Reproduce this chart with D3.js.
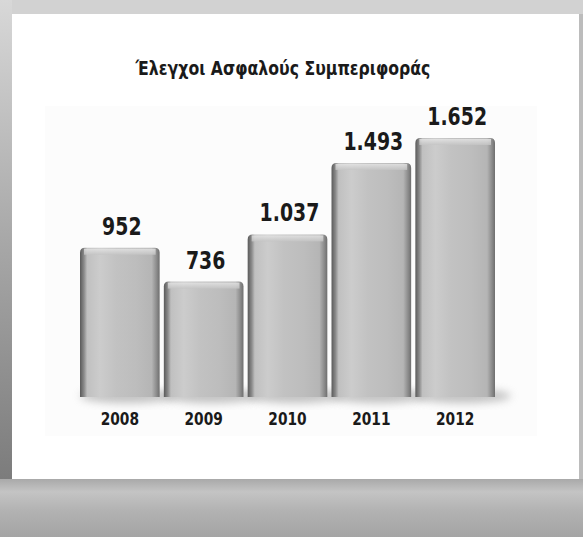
<!DOCTYPE html>
<html>
<head>
<meta charset="utf-8">
<script src="https://cdn.jsdelivr.net/npm/d3@7"></script>
<style>
html,body{margin:0;padding:0;background:#fff;}
svg{display:block;}
</style>
</head>
<body>
<script>
const title = "Έλεγχοι Ασφαλούς Συμπεριφοράς";
const years = ["2008","2009","2010","2011","2012"];
const values = [952, 736, 1037, 1493, 1652];
const valueLabels = ["952","736","1.037","1.493","1.652"];

const W = 583, H = 537;
const FONT = "'DejaVu Sans Condensed','Liberation Sans Narrow',sans-serif";
const svg = d3.select("body").append("svg").attr("width", W).attr("height", H);
const defs = svg.append("defs");

// background gradients
const gLeft = defs.append("linearGradient").attr("id","gLeft").attr("x1",0).attr("y1",0).attr("x2",0).attr("y2",1);
gLeft.append("stop").attr("offset","0%").attr("stop-color","#d8d8d8");
gLeft.append("stop").attr("offset","50%").attr("stop-color","#a8a8a8");
gLeft.append("stop").attr("offset","100%").attr("stop-color","#7c7c7c");
const gBot = defs.append("linearGradient").attr("id","gBot").attr("x1",0).attr("y1",0).attr("x2",0).attr("y2",1);
gBot.append("stop").attr("offset","0%").attr("stop-color","#a9a9a9");
gBot.append("stop").attr("offset","22%").attr("stop-color","#c4c4c4");
gBot.append("stop").attr("offset","55%").attr("stop-color","#b2b2b2");
gBot.append("stop").attr("offset","100%").attr("stop-color","#a4a4a4");

svg.append("rect").attr("x",0).attr("y",0).attr("width",W).attr("height",H).attr("fill","#d2d2d2");
svg.append("rect").attr("x",0).attr("y",0).attr("width",12).attr("height",479).attr("fill","url(#gLeft)");
svg.append("rect").attr("x",579).attr("y",14).attr("width",4).attr("height",465).attr("fill","#bcbcbc");
svg.append("rect").attr("x",0).attr("y",479).attr("width",W).attr("height",H-479).attr("fill","url(#gBot)");
// panel
svg.append("rect").attr("x",12).attr("y",14).attr("width",567).attr("height",465).attr("fill","#ffffff");
svg.append("rect").attr("x",45).attr("y",106).attr("width",492).attr("height",330).attr("fill","#fcfcfc");

// title
svg.append("text").attr("transform","translate(283,75) scale(0.92,1)").attr("text-anchor","middle")
  .attr("font-family",FONT)
  .attr("font-weight","bold").attr("font-size",19).attr("fill","#1a1a1a")
  .text(title);

// scales
const x = d3.scaleBand().domain(years).range([80,495]).paddingInner(0.05).paddingOuter(0.0);
const y = d3.scaleLinear().domain([0, 1652]).range([397, 138]);

// bar gradient
const gBar = defs.append("linearGradient").attr("id","gBar").attr("x1",0).attr("y1",0).attr("x2",1).attr("y2",0);
[["0%","#5a5a5a"],["5%","#8a8a8a"],["9%","#c0c0c0"],["25%","#cccccc"],["45%","#c2c2c2"],["70%","#bdbdbd"],["90%","#b5b5b5"],["96%","#8c8c8c"],["100%","#6e6e6e"]]
  .forEach(s => gBar.append("stop").attr("offset",s[0]).attr("stop-color",s[1]));
const gTop = defs.append("linearGradient").attr("id","gTop").attr("x1",0).attr("y1",0).attr("x2",0).attr("y2",1);
gTop.append("stop").attr("offset","0%").attr("stop-color","#e6e6e6");
gTop.append("stop").attr("offset","100%").attr("stop-color","#c4c4c4");
const blur = defs.append("filter").attr("id","blur").attr("x","-20%").attr("y","-50%").attr("width","140%").attr("height","200%");
blur.append("feGaussianBlur").attr("stdDeviation",4);

const bars = svg.append("g");
// shadows
bars.selectAll("ellipse.sh").data(years).join("ellipse")
  .attr("cx", d => x(d) + x.bandwidth()*0.6)
  .attr("cy", 396)
  .attr("rx", x.bandwidth()*0.6)
  .attr("ry", 7)
  .attr("fill","#9a9a9a").attr("opacity",0.6).attr("filter","url(#blur)");

bars.selectAll("path.bar").data(values).join("path")
  .attr("d", (v,i) => {
    const x0 = x(years[i]), w = x.bandwidth(), y0 = y(v), y1 = y(0), r = 5;
    return `M${x0},${y1}V${y0+r}Q${x0},${y0} ${x0+r},${y0}H${x0+w-r}Q${x0+w},${y0} ${x0+w},${y0+r}V${y1}Z`;
  })
  .attr("fill","url(#gBar)");
// top cap highlight
bars.selectAll("rect.cap").data(values).join("rect")
  .attr("x",(v,i)=>x(years[i])+4).attr("y",v=>y(v)+1)
  .attr("width",x.bandwidth()-8).attr("height",6)
  .attr("fill","url(#gTop)").attr("opacity",0.8);

// value labels
svg.append("g").selectAll("text").data(valueLabels).join("text")
  .attr("transform",(t,i)=>`translate(${x(years[i]) + x.bandwidth()/2 + 2},${y(values[i]) - 13}) scale(0.84,1)`)
  .attr("text-anchor","middle")
  .attr("font-family",FONT)
  .attr("font-weight","bold").attr("font-size",25).attr("fill","#1a1a1a")
  .text(t=>t);

// axis
const axis = d3.axisBottom(x).tickSize(0).tickPadding(0);
const ax = svg.append("g").attr("transform","translate(0,413)").call(axis);
ax.select(".domain").remove();
ax.selectAll("text")
  .attr("transform","scale(0.9,1)")
  .attr("font-family",FONT)
  .attr("font-weight","bold").attr("font-size",17).attr("fill","#1a1a1a");
ax.selectAll(".tick text").attr("transform", null);
ax.selectAll(".tick").each(function(){
  const t = d3.select(this).select("text");
  t.attr("transform","scale(0.9,1)");
});
</script>
</body>
</html>
